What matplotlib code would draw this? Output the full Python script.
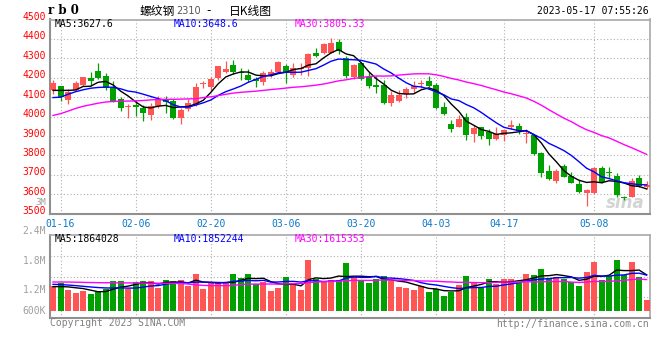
import numpy as np
import pandas as pd
import matplotlib
matplotlib.use("Agg")
import matplotlib.pyplot as plt

plt.rcParams['font.family'] = ['DejaVu Sans Mono']

# trading days shown on the chart (rb2310 daily)
dates = ['01-13', '01-16', '01-17', '01-18', '01-19', '01-20', '01-30', '01-31', '02-01', '02-02',
         '02-03', '02-06', '02-07', '02-08', '02-09', '02-10', '02-13', '02-14', '02-15', '02-16',
         '02-17', '02-20', '02-21', '02-22', '02-23', '02-24', '02-27', '02-28', '03-01', '03-02',
         '03-03', '03-06', '03-07', '03-08', '03-09', '03-10', '03-13', '03-14', '03-15', '03-16',
         '03-17', '03-20', '03-21', '03-22', '03-23', '03-24', '03-27', '03-28', '03-29', '03-30',
         '03-31', '04-03', '04-04', '04-06', '04-07', '04-10', '04-11', '04-12', '04-13', '04-14',
         '04-17', '04-18', '04-19', '04-20', '04-21', '04-24', '04-25', '04-26', '04-27', '04-28',
         '05-04', '05-05', '05-08', '05-09', '05-10', '05-11', '05-12', '05-15', '05-16', '05-17']

opens = [4135, 4155, 4087, 4138, 4165, 4201, 4237, 4207, 4148, 4092,
         4049, 4058, 4044, 4008, 4053, 4087, 4078, 3993, 4037, 4063,
         4167, 4152, 4198, 4229, 4265, 4231, 4212, 4195, 4177, 4212,
         4229, 4263, 4215, 4246, 4251, 4330, 4330, 4330, 4386, 4301,
         4203, 4275, 4203, 4165, 4165, 4070, 4080, 4114, 4140, 4169,
         4183, 4165, 4049, 3963, 3949, 4000, 3912, 3946, 3920, 3887,
         3903, 3948, 3953, 3912, 3907, 3810, 3721, 3669, 3745, 3694,
         3653, 3609, 3609, 3737, 3716, 3693, 3584, 3588, 3683, 3637]
highs = [4191, 4157, 4143, 4183, 4206, 4228, 4278, 4224, 4183, 4100,
         4063, 4088, 4058, 4070, 4104, 4104, 4092, 4046, 4092, 4172,
         4183, 4203, 4263, 4284, 4294, 4250, 4246, 4203, 4234, 4243,
         4284, 4272, 4277, 4277, 4330, 4354, 4381, 4405, 4400, 4313,
         4272, 4280, 4229, 4208, 4186, 4130, 4135, 4152, 4181, 4186,
         4207, 4172, 4075, 3980, 4010, 4017, 3959, 3949, 3937, 3946,
         3937, 3980, 3966, 3935, 3912, 3818, 3750, 3730, 3754, 3716,
         3674, 3628, 3742, 3745, 3740, 3712, 3592, 3685, 3698, 3667]
lows = [4117, 4080, 4063, 4131, 4155, 4155, 4193, 4138, 4073, 4027,
        3993, 4003, 3977, 3984, 4046, 4018, 3989, 3960, 4027, 4053,
        4148, 4131, 4191, 4226, 4217, 4189, 4177, 4152, 4165, 4203,
        4226, 4174, 4203, 4212, 4208, 4306, 4323, 4330, 4320, 4198,
        4195, 4189, 4148, 4121, 4063, 4053, 4073, 4095, 4123, 4148,
        4152, 4040, 4006, 3920, 3946, 3878, 3869, 3886, 3855, 3878,
        3874, 3937, 3908, 3866, 3804, 3687, 3674, 3660, 3687, 3657,
        3606, 3538, 3602, 3660, 3684, 3588, 3572, 3585, 3635, 3625]
closes = [4174, 4100, 4126, 4172, 4203, 4181, 4201, 4148, 4082, 4044,
          4056, 4049, 4018, 4056, 4090, 4075, 3993, 4035, 4070, 4152,
          4172, 4194, 4260, 4243, 4229, 4224, 4191, 4181, 4224, 4232,
          4280, 4224, 4251, 4251, 4320, 4314, 4374, 4381, 4337, 4208,
          4268, 4195, 4155, 4152, 4070, 4109, 4109, 4140, 4157, 4174,
          4160, 4044, 4011, 3934, 3988, 3903, 3941, 3900, 3886, 3912,
          3929, 3956, 3926, 3917, 3806, 3711, 3679, 3720, 3691, 3660,
          3611, 3623, 3737, 3665, 3712, 3595, 3581, 3668, 3645, 3649]
# volume, thousand lots
volumes = [1280, 1453, 1073, 934, 1003, 865, 1038, 1125, 1540, 1540,
           1125, 1505, 1540, 1540, 1194, 1592, 1540, 1592, 1280, 1903,
           1125, 1419, 1453, 1419, 1903, 1713, 1903, 1384, 1505, 1021,
           1159, 1730, 1453, 1073, 2630, 1626, 1540, 1592, 1592, 2491,
           1730, 1540, 1453, 1644, 1799, 1540, 1246, 1194, 1073, 1280,
           986, 1107, 761, 986, 1332, 1799, 1505, 1194, 1644, 1384,
           1644, 1644, 1453, 1903, 1851, 2163, 1713, 1730, 1644, 1505,
           1280, 1990, 2526, 1592, 1799, 2630, 1851, 2526, 1730, 554]

# moving-average values at the left edge (they depend on days before the window)
ma5_head = [4135, 4135, 4135, 4137]
ma10_head = [4098, 4100, 4115, 4128, 4138, 4146, 4150, 4152, 4151]
ma30_head = [4006, 4015, 4028, 4042, 4053, 4061, 4069, 4075, 4078, 4079,
             4080, 4081, 4083, 4086, 4088, 4089, 4089, 4090, 4091, 4092,
             4098, 4102, 4108, 4115, 4121, 4125, 4128, 4131, 4135]
vma5_head = [1246, 1250, 1235, 1190]
vma10_head = [1367, 1355, 1330, 1300, 1265, 1230, 1200, 1180, 1175]
vma30_head = [1488, 1488, 1485, 1480, 1470, 1460, 1453, 1450, 1448, 1445,
              1440, 1436, 1432, 1428, 1425, 1420, 1415, 1410, 1380, 1340,
              1310, 1300, 1300, 1300, 1305, 1360, 1375, 1380, 1382]

tick_dates = ['01-16', '02-06', '02-20', '03-06', '03-20', '04-03', '04-17', '05-08']
price_ticks = [3500, 3600, 3700, 3800, 3900, 4000, 4100, 4200, 4300, 4400, 4500]
vol_labels = ['2.4M', '1.8M', '1.2M', '600K']
vol_label_px = [231, 261, 290, 311]

RED = '#ff5555'
GREEN = '#00a000'
GRID = '#b0b0b0'

W, H = 660, 360
fig = plt.figure(figsize=(6.6, 3.6), dpi=100)


def box(l, t, r, b):
    return [l / W, 1 - b / H, (r - l) / W, (b - t) / H]


def ftext(x, y, s, **kw):
    kw.setdefault('va', 'center')
    fig.text(x / W, 1 - y / H, s, **kw)


def with_head(values, n, head):
    s = pd.Series(values, dtype=float).rolling(n).mean()
    s.iloc[:len(head)] = head
    return s


ax = fig.add_axes(box(50, 19.5, 650, 213.7))
axv = fig.add_axes(box(50, 234.7, 650, 318.3))

x = np.arange(len(dates))
o = np.array(opens)
h = np.array(highs)
l = np.array(lows)
c = np.array(closes)
col = np.where(c >= o, RED, GREEN)

# price panel
ax.vlines(x, l, h, colors=col, lw=0.9, zorder=3)
ax.bar(x, np.maximum(np.abs(c - o), 3), 0.8, bottom=np.minimum(o, c), color=col, lw=0, zorder=4)
ax.plot(x, with_head(closes, 5, ma5_head), color='black', lw=1, zorder=5)
ax.plot(x, with_head(closes, 10, ma10_head), color='#0000ff', lw=1, zorder=5)
ax.plot(x, with_head(closes, 30, ma30_head), color='#ff00ff', lw=1, zorder=5)
ax.set_xlim(-0.4, 79.45)
ax.set_ylim(3500, 4500)
for p in price_ticks[1:-1]:
    ax.axhline(p, color=GRID, lw=0.8, ls=(0, (1, 2)), zorder=1)

# volume panel
v = np.array(volumes) * 1000
axv.bar(x, v, 0.8, color=col, lw=0, zorder=3)
axv.plot(x, with_head(v, 5, np.array(vma5_head) * 1000), color='black', lw=1, zorder=5)
axv.plot(x, with_head(v, 10, np.array(vma10_head) * 1000), color='#0000ff', lw=1, zorder=5)
axv.plot(x, with_head(v, 30, np.array(vma30_head) * 1000), color='#ff00ff', lw=1, zorder=5)
axv.set_xlim(-0.4, 79.45)
axv.set_ylim(-394e3, 3.94e6)
y0, y1 = axv.get_ylim()
for f in (0.25, 0.5, 0.75):
    axv.axhline(y0 + (y1 - y0) * f, color=GRID, lw=0.8, ls=(0, (1, 2)), zorder=1)

tick_idx = [dates.index(d) for d in tick_dates]
for a in (ax, axv):
    for i in tick_idx:
        a.axvline(i, color=GRID, lw=0.8, ls=(0, (1, 2)), zorder=1)
    a.set_yticks([])
    for side in ('left', 'bottom'):
        a.spines[side].set_color('#909090')
        a.spines[side].set_linewidth(1.5)
    for side in ('top', 'right'):
        a.spines[side].set_color('#a8a8a8')
        a.spines[side].set_linewidth(1.2)

ax.set_xticks(tick_idx)
ax.set_xticklabels(tick_dates, color='#0a78c8', fontsize=7)
ax.tick_params(axis='x', length=0, pad=3.5)
axv.set_xticks([])

# price labels (red, a little above their grid line)
for p in price_ticks:
    ypx = 19.5 + (4500 - p) / 1000 * (213.7 - 19.5)
    ftext(46, ypx - 2.5, str(p), ha='right', color='#ff0000', fontsize=7)
ftext(46, 202.5, '3M', ha='right', color='#a0a0a0', fontsize=6.5)
for s, ypx in zip(vol_labels, vol_label_px):
    ftext(46, ypx, s, ha='right', color='#a0a0a0', fontsize=7)

# headers
ftext(48, 11, 'r b 0', family='DejaVu Serif', weight='bold', fontsize=8.5)
ftext(140, 11, '螺纹钢', family=['Noto Sans CJK SC'], fontsize=8.5)
ftext(176, 11.5, '2310', family='DejaVu Sans', color='#555555', fontsize=7)
ftext(206, 11, '-', family='DejaVu Sans', fontsize=8.5)
ftext(229, 11, '日K线图', family=['Noto Sans CJK SC'], fontsize=8.5)
ftext(649, 11, '2023-05-17 07:55:26', ha='right', fontsize=7)

ftext(55, 24, 'MA5:3627.6', color='black', fontsize=7)
ftext(174, 24, 'MA10:3648.6', color='#0000ff', fontsize=7)
ftext(295, 24, 'MA30:3805.33', color='#ff00ff', fontsize=7)
ftext(55, 239, 'MA5:1864028', color='black', fontsize=7)
ftext(174, 239, 'MA10:1852244', color='#0000ff', fontsize=7)
ftext(295, 239, 'MA30:1615353', color='#ff00ff', fontsize=7)

ftext(50, 323.5, 'Copyright 2023 SINA.COM', color='#808080', fontsize=7)
ftext(649, 324, 'http://finance.sina.com.cn', ha='right', color='#808080', fontsize=7)

ax.text(0.958, 0.055, 'sina', transform=ax.transAxes, ha='center', va='center',
        family='DejaVu Sans', style='italic', weight='bold', fontsize=12,
        color='#d4d4d4', zorder=0.5)

fig.savefig('out.png', dpi=100)
